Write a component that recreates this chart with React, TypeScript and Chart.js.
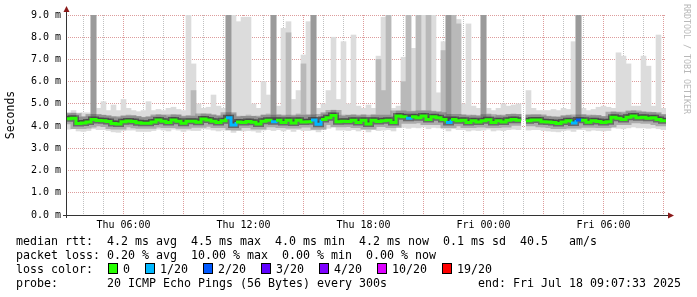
import React, { useEffect, useRef } from 'react';
import { Chart, registerables } from 'chart.js';

Chart.register(...registerables);

// ---- time axis (hours since Thu 00:00) ----
const START_HOUR = 3.126; // Thu 03:07:33
const END_HOUR = 33.126; // Fri 09:07:33
const BUCKET_HOURS = 0.25;

const xTickHours = [6, 12, 18, 24, 30];
const xTickLabels = ['Thu 06:00', 'Thu 12:00', 'Thu 18:00', 'Fri 00:00', 'Fri 06:00'];
const yTickLabels = ['0.0 m', '1.0 m', '2.0 m', '3.0 m', '4.0 m', '5.0 m', '6.0 m', '7.0 m', '8.0 m', '9.0 m'];

// ---- per 15-minute bucket values (ms) ----
const median = [
  4.33, 4.35, 4.12, 4.14, 4.19, 4.30, 4.25, 4.24, 4.21, 4.12,
  4.09, 4.20, 4.23, 4.21, 4.15, 4.13, 4.13, 4.18, 4.28, 4.22,
  4.16, 4.28, 4.22, 4.13, 4.22, 4.22, 4.17, 4.32, 4.28, 4.22,
  4.16, 4.24, 4.38, 4.05, 4.19, 4.16, 4.21, 4.17, 4.09, 4.22,
  4.26, 4.20, 4.26, 4.16, 4.26, 4.14, 4.26, 4.18, 4.20, 4.28,
  4.08, 4.30, 4.38, 4.48, 4.20, 4.22, 4.21, 4.26, 4.16, 4.26,
  4.10, 4.26, 4.21, 4.24, 4.26, 4.16, 4.45, 4.42, 4.35, 4.42,
  4.38, 4.45, 4.30, 4.42, 4.38, 4.30, 4.16, 4.30, 4.24, 4.26,
  4.16, 4.24, 4.19, 4.24, 4.29, 4.16, 4.24, 4.19, 4.26, 4.30,
  4.26, null, 4.24, 4.27, 4.27, 4.20, 4.18, 4.16, 4.12, 4.19,
  4.24, 4.14, 4.28, 4.26, 4.17, 4.24, 4.21, 4.16, 4.20, 4.40,
  4.35, 4.30, 4.40, 4.45, 4.38, 4.40, 4.35, 4.38, 4.30, 4.24,
];

const lossCount = [
  0, 0, 0, 0, 0, 0, 0, 0, 0, 0,
  0, 0, 0, 0, 0, 0, 0, 0, 0, 0,
  0, 0, 0, 0, 0, 0, 0, 0, 0, 0,
  0, 0, 1, 1, 0, 0, 0, 0, 0, 0,
  0, 1, 0, 0, 0, 0, 0, 0, 0, 1,
  1, 0, 0, 0, 0, 0, 0, 0, 0, 0,
  0, 0, 0, 0, 0, 0, 0, 0, 1, 0,
  0, 0, 0, 0, 0, 0, 1, 0, 0, 0,
  0, 0, 0, 0, 0, 0, 0, 0, 0, 0,
  0, 0, 0, 0, 0, 0, 0, 0, 0, 0,
  0, 1, 2, 0, 0, 0, 0, 0, 0, 0,
  0, 0, 0, 0, 0, 0, 0, 0, 0, 0,
];

const pingMin = [
  3.86, 3.88, 3.78, 3.76, 3.80, 3.88, 3.84, 3.84, 3.80, 3.74,
  3.72, 3.80, 3.82, 3.82, 3.76, 3.76, 3.76, 3.80, 3.86, 3.82,
  3.78, 3.86, 3.82, 3.76, 3.82, 3.80, 3.80, 3.88, 3.86, 3.82,
  3.78, 3.82, 3.84, 3.72, 3.80, 3.78, 3.80, 3.78, 3.72, 3.82,
  3.84, 3.80, 3.84, 3.78, 3.84, 3.76, 3.84, 3.80, 3.80, 3.82,
  3.74, 3.86, 3.90, 3.96, 3.82, 3.82, 3.80, 3.84, 3.78, 3.84,
  3.74, 3.84, 3.80, 3.82, 3.84, 3.78, 3.96, 3.94, 3.90, 3.94,
  3.92, 3.96, 3.88, 3.94, 3.92, 3.88, 3.78, 3.88, 3.84, 3.84,
  3.78, 3.82, 3.80, 3.82, 3.86, 3.78, 3.82, 3.80, 3.84, 3.86,
  3.84, null, 3.82, 3.84, 3.84, 3.80, 3.78, 3.76, 3.74, 3.80,
  3.82, 3.76, 3.84, 3.84, 3.78, 3.82, 3.80, 3.78, 3.80, 3.92,
  3.90, 3.88, 3.92, 3.96, 3.92, 3.92, 3.90, 3.92, 3.88, 3.84,
];

const pingP75 = [
  4.45, 4.47, 4.25, 4.27, 4.31, 9.5, 4.37, 4.36, 4.33, 4.25,
  4.22, 4.32, 4.35, 4.33, 4.28, 4.26, 4.26, 4.30, 4.40, 4.34,
  4.28, 4.40, 4.34, 4.26, 4.34, 4.34, 4.30, 4.44, 4.40, 4.34,
  4.28, 4.36, 9.5, 4.20, 4.31, 4.28, 4.33, 4.29, 4.22, 4.34,
  4.38, 9.5, 4.38, 4.28, 4.38, 4.27, 4.38, 4.30, 4.32, 9.5,
  4.22, 4.42, 4.50, 4.60, 4.32, 4.34, 4.33, 4.38, 4.28, 4.38,
  4.23, 4.38, 4.33, 4.36, 4.38, 4.28, 4.57, 4.54, 4.47, 4.54,
  4.50, 4.57, 4.42, 4.54, 4.50, 4.42, 9.5, 4.42, 4.36, 4.38,
  4.28, 4.36, 4.31, 9.5, 4.41, 4.28, 4.36, 4.31, 4.38, 4.42,
  4.38, null, 4.36, 4.39, 4.39, 4.32, 4.30, 4.28, 4.25, 4.31,
  4.36, 4.27, 9.5, 4.38, 4.29, 4.36, 4.33, 4.28, 4.32, 4.52,
  4.47, 4.42, 4.52, 4.57, 4.50, 4.52, 4.47, 4.50, 4.42, 4.36,
];

const pingP90 = [
  4.55, 4.58, 4.40, 4.42, 4.45, 9.5, 4.50, 4.50, 4.45, 4.40,
  4.38, 4.45, 4.50, 4.48, 4.42, 4.40, 4.42, 4.45, 4.52, 4.48,
  4.42, 4.52, 4.50, 4.42, 4.48, 5.60, 4.45, 4.55, 4.52, 4.50,
  4.45, 4.50, 9.5, 4.55, 4.45, 4.45, 4.50, 4.45, 4.40, 4.50,
  4.55, 9.5, 4.52, 4.45, 8.20, 4.45, 4.55, 6.80, 4.50, 9.5,
  4.40, 4.55, 4.62, 4.72, 4.48, 4.50, 4.48, 4.52, 4.45, 4.52,
  4.40, 4.52, 7.00, 5.60, 9.5, 4.45, 4.68, 6.00, 9.5, 4.68,
  9.5, 4.70, 9.5, 4.68, 4.62, 7.40, 9.5, 9.5, 8.60, 4.52,
  4.45, 4.50, 4.45, 9.5, 4.55, 4.42, 4.50, 4.45, 4.52, 4.55,
  4.52, null, 4.50, 4.52, 4.52, 4.45, 4.45, 4.42, 4.40, 4.45,
  4.50, 4.42, 9.5, 4.52, 4.45, 4.50, 4.48, 4.42, 4.45, 4.65,
  4.60, 4.55, 4.65, 4.70, 4.62, 4.65, 4.60, 4.62, 4.55, 4.50,
];

const pingMax = [
  4.60, 4.70, 4.55, 4.60, 4.60, 9.5, 4.80, 5.10, 4.70, 4.95,
  4.70, 5.20, 4.80, 4.70, 4.65, 4.70, 5.10, 4.70, 4.75, 4.70,
  4.80, 4.85, 4.75, 4.70, 9.5, 6.80, 5.00, 4.80, 4.85, 5.40,
  4.90, 4.80, 9.5, 9.5, 8.70, 8.90, 8.90, 5.00, 4.80, 6.00,
  5.40, 9.5, 4.90, 8.40, 8.70, 5.20, 5.60, 7.20, 8.70, 9.5,
  4.80, 5.00, 5.60, 8.00, 5.20, 7.80, 5.00, 8.10, 4.90, 4.80,
  4.95, 4.80, 7.15, 8.90, 9.5, 4.80, 4.90, 7.10, 9.5, 7.50,
  9.5, 9.00, 9.5, 9.00, 5.50, 7.80, 9.5, 9.5, 8.80, 5.00,
  8.60, 4.90, 4.80, 9.5, 4.80, 4.70, 4.80, 5.00, 4.90, 4.95,
  5.00, null, 5.60, 4.80, 4.70, 4.70, 4.70, 4.75, 4.70, 4.80,
  4.75, 7.80, 9.5, 4.80, 4.70, 4.75, 4.85, 4.90, 4.85, 4.80,
  7.30, 7.15, 6.80, 4.90, 4.90, 7.15, 6.70, 4.90, 8.10, 4.80,
];

// ---- legend / statistics ----
const lossLevels = [0, 1, 2, 3, 4, 10, 19];
const lossLabels = ['0', '1/20', '2/20', '3/20', '4/20', '10/20', '19/20'];
const lossColors = ['#26ff00', '#00b8ff', '#0059ff', '#5e00ff', '#7e00ff', '#dd00ff', '#ff0000'];
const rttStats = ['4.2 ms avg', '4.5 ms max', '4.0 ms min', '4.2 ms now', '0.1 ms sd', '40.5   am/s'];
const lossStats = ['0.20 % avg', '10.00 % max', '0.00 % min', '0.00 % now'];
const probeText = '20 ICMP Echo Pings (56 Bytes) every 300s';
const endText = 'end: Fri Jul 18 09:07:33 2025';

const MONO = '"DejaVu Sans Mono", monospace';
const MAJOR_GRID = 'rgba(180, 40, 40, 0.46)';
const MINOR_GRID = 'rgba(120, 120, 120, 0.46)';

function lossColorFor(count: number): string {
  let c = lossColors[0];
  for (let k = 0; k < lossLevels.length; k++) {
    if (count >= lossLevels[k]) c = lossColors[k];
  }
  return c;
}

const bucketStart = (i: number) => START_HOUR + i * BUCKET_HOURS;
const bucketCenter = (i: number) => START_HOUR + (i + 0.5) * BUCKET_HOURS;

function floatBars(low: (number | null)[], high: (number | null)[]) {
  return median.map((_, i) => ({
    x: bucketCenter(i),
    y: low[i] == null || high[i] == null ? null : [low[i] as number, high[i] as number],
  }));
}

function medianSteps() {
  const pts: { x: number; y: number | null }[] = [];
  median.forEach((v, i) => {
    pts.push({ x: bucketStart(i), y: v });
    pts.push({ x: bucketStart(i + 1), y: v });
  });
  return pts;
}

const axesPlugin = {
  id: 'rrdAxes',
  afterDatasetsDraw(chart: any) {
    const { ctx, chartArea: a } = chart;
    ctx.save();
    ctx.strokeStyle = '#333333';
    ctx.lineWidth = 1;
    ctx.beginPath();
    ctx.moveTo(a.left + 0.5, a.bottom + 3);
    ctx.lineTo(a.left + 0.5, a.top - 5);
    ctx.moveTo(a.left - 3, a.bottom + 0.5);
    ctx.lineTo(a.right + 3, a.bottom + 0.5);
    ctx.stroke();
    ctx.fillStyle = '#8b1a1a';
    ctx.beginPath();
    ctx.moveTo(a.left + 0.5, a.top - 9);
    ctx.lineTo(a.left + 3.5, a.top - 3);
    ctx.lineTo(a.left - 2.5, a.top - 3);
    ctx.closePath();
    ctx.fill();
    ctx.beginPath();
    ctx.moveTo(a.right + 8, a.bottom + 0.5);
    ctx.lineTo(a.right + 2, a.bottom + 3.5);
    ctx.lineTo(a.right + 2, a.bottom - 2.5);
    ctx.closePath();
    ctx.fill();
    ctx.restore();
  },
};

export default function App() {
  const canvasRef = useRef<HTMLCanvasElement | null>(null);

  useEffect(() => {
    if (!canvasRef.current) return;
    const steps = medianSteps();
    const barCommon = {
      type: 'bar' as const,
      grouped: false,
      barPercentage: 1,
      categoryPercentage: 1,
      borderWidth: 0,
      clip: 0,
    };
    const lineCommon = {
      type: 'line' as const,
      data: steps,
      pointRadius: 0,
      tension: 0,
      spanGaps: false,
      borderCapStyle: 'butt' as const,
      borderJoinStyle: 'miter' as const,
    };
    const chart = new Chart(canvasRef.current, {
      type: 'bar',
      data: {
        datasets: [
          {
            ...lineCommon,
            label: 'median',
            borderWidth: 3,
            borderColor: lossColors[0],
            order: 0,
            segment: {
              borderColor: (c: any) => lossColorFor(lossCount[Math.floor(c.p0DataIndex / 2)] || 0),
            },
          } as any,
          { ...lineCommon, label: 'core', borderWidth: 6, borderColor: 'rgba(0,0,0,0.38)', order: 1 } as any,
          { ...lineCommon, label: 'core2', borderWidth: 11, borderColor: 'rgba(0,0,0,0.22)', order: 2 } as any,
          { ...barCommon, label: 'p75', data: floatBars(median, pingP75), backgroundColor: '#9a9a9a', order: 3 } as any,
          { ...barCommon, label: 'p90', data: floatBars(median, pingP90), backgroundColor: '#b9b9b9', order: 4 } as any,
          { ...barCommon, label: 'max', data: floatBars(pingMin, pingMax), backgroundColor: '#dcdcdc', order: 5 } as any,
        ],
      },
      options: {
        animation: false,
        responsive: false,
        devicePixelRatio: 1,
        events: [],
        layout: { padding: { left: 0, top: 15, right: 31, bottom: 0 } },
        plugins: { legend: { display: false }, tooltip: { enabled: false }, title: { display: false } },
        scales: {
          x: {
            type: 'linear',
            min: START_HOUR,
            max: END_HOUR,
            offset: false,
            afterBuildTicks: (axis: any) => {
              const t: { value: number }[] = [];
              for (let h = Math.ceil(START_HOUR); h <= END_HOUR; h++) t.push({ value: h });
              axis.ticks = t;
            },
            afterFit: (axis: any) => {
              axis.height = 82;
            },
            ticks: {
              autoSkip: false,
              maxRotation: 0,
              minRotation: 0,
              padding: 4,
              color: '#000000',
              font: { family: MONO, size: 10 },
              callback: (v: any) => {
                const k = xTickHours.indexOf(Math.round(Number(v)));
                return k >= 0 && Math.abs(Number(v) - xTickHours[k]) < 1e-6 ? xTickLabels[k] : '';
              },
            },
            grid: {
              offset: false,
              drawTicks: false,
              lineWidth: 1,
              color: (c: any) => (c.tick && Math.round(c.tick.value) % 3 === 0 ? MAJOR_GRID : MINOR_GRID),
            },
            border: { display: false, dash: [1, 1] },
          },
          y: {
            type: 'linear',
            min: 0,
            max: 9,
            afterFit: (axis: any) => {
              axis.width = 66;
            },
            ticks: {
              stepSize: 0.5,
              padding: 5,
              color: '#000000',
              font: { family: MONO, size: 10 },
              callback: (v: any) => {
                const n = Number(v);
                return Math.abs(n - Math.round(n)) < 1e-6 ? yTickLabels[Math.round(n)] : '';
              },
            },
            grid: {
              drawTicks: false,
              lineWidth: 1,
              color: (c: any) =>
                c.tick && Math.abs(c.tick.value - Math.round(c.tick.value)) < 1e-6 ? MAJOR_GRID : MINOR_GRID,
            },
            border: { display: false, dash: [1, 1] },
            title: {
              display: true,
              text: 'Seconds',
              color: '#000000',
              font: { family: MONO, size: 11.5 },
              padding: { top: 4, bottom: 0 },
            },
          },
        },
      } as any,
      plugins: [axesPlugin],
    });
    return () => chart.destroy();
  }, []);

  const textStyle: React.CSSProperties = {
    position: 'absolute',
    left: 16,
    font: `11.63px ${MONO}`,
    lineHeight: '14px',
    whiteSpace: 'pre',
    color: '#000',
  };

  return (
    <div
      style={{
        position: 'fixed',
        left: 0,
        top: 0,
        width: 697,
        height: 297,
        background: '#ffffff',
        overflow: 'hidden',
      }}
    >
      <canvas
        ref={canvasRef}
        width={697}
        height={297}
        style={{ position: 'absolute', left: 0, top: 0, width: 697, height: 297 }}
      />
      <div
        style={{
          position: 'absolute',
          left: 682,
          top: 4,
          writingMode: 'vertical-rl',
          font: `8.3px ${MONO}`,
          lineHeight: '9px',
          color: '#b8b8b8',
          whiteSpace: 'pre',
        }}
      >
        RRDTOOL / TOBI OETIKER
      </div>
      <div style={{ ...textStyle, top: 234 }}>{'median rtt:  ' + rttStats.join('  ')}</div>
      <div style={{ ...textStyle, top: 248 }}>{'packet loss: ' + lossStats.join('  ')}</div>
      <div style={{ ...textStyle, top: 262 }}>
        {'loss color:  '}
        {lossLabels.map((lab, k) => (
          <span key={lab}>
            <span style={{ display: 'inline-block', width: 16, verticalAlign: 'top', height: 14 }}>
              <span
                style={{
                  display: 'block',
                  marginTop: 1,
                  marginLeft: 1,
                  width: 8,
                  height: 9,
                  border: '1px solid #000',
                  background: lossColors[k],
                }}
              />
            </span>
            {lab}
            <span style={{ display: 'inline-block', width: 14 }} />
          </span>
        ))}
      </div>
      <div style={{ ...textStyle, top: 276 }}>{'probe:       ' + probeText}</div>
      <div style={{ ...textStyle, top: 276, left: 478 }}>{endText}</div>
    </div>
  );
}
